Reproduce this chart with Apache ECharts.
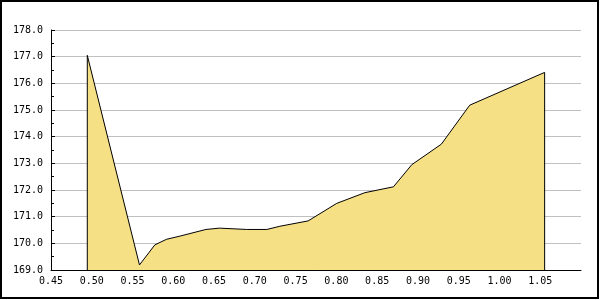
<!DOCTYPE html>
<html><head><meta charset="utf-8">
<script src="https://cdn.jsdelivr.net/npm/echarts@6/dist/echarts.min.js"></script>
<style>html,body{margin:0;padding:0;background:#fff}#c{width:600px;height:300px}</style>
</head><body><div id="c"></div>
<script>
var xValues = [0.4945, 0.5585, 0.5773, 0.5915, 0.608, 0.640, 0.6567, 0.690, 0.7147, 0.7306, 0.7653, 0.8005, 0.835, 0.870, 0.8925, 0.9288, 0.9635, 1.0554];
var yValues = [177.05, 169.19, 169.94, 170.15, 170.27, 170.52, 170.57, 170.52, 170.52, 170.64, 170.84, 171.50, 171.90, 172.12, 172.95, 173.72, 175.18, 176.41];
var baseline = 169;
var xTicks = {min: 0.45, max: 1.10, step: 0.05};
var yTicks = {min: 169, max: 178, step: 1};

var pts = [[xValues[0], baseline]];
for (var i = 0; i < xValues.length; i++) pts.push([xValues[i], yValues[i]]);
pts.push([xValues[xValues.length - 1], baseline]);

var font = 'DejaVu Sans Mono';
var chart = echarts.init(document.getElementById('c'), null, {renderer: 'canvas'});
chart.setOption({
  animation: false,
  backgroundColor: '#fff',
  grid: {left: 51, top: 30, right: 19, bottom: 30, containLabel: false},
  xAxis: {
    type: 'value', min: xTicks.min, max: xTicks.max, interval: xTicks.step,
    axisLine: {lineStyle: {color: '#000', width: 1}},
    axisTick: {inside: true, length: 5, lineStyle: {color: '#000'}},
    axisLabel: {color: '#000', fontFamily: font, fontSize: 10, margin: 6, showMaxLabel: false,
      formatter: function (v) { return v.toFixed(2); }},
    splitLine: {show: false}
  },
  yAxis: {
    type: 'value', min: yTicks.min, max: yTicks.max, interval: yTicks.step,
    axisLine: {show: true, lineStyle: {color: '#000', width: 1}},
    axisTick: {show: true, inside: true, length: 4, lineStyle: {color: '#000'}},
    minorTick: {show: true, splitNumber: 2, length: 3, lineStyle: {color: '#000'}},
    axisLabel: {color: '#000', fontFamily: font, fontSize: 10, margin: 8,
      formatter: function (v) { return v.toFixed(1); }},
    splitLine: {show: true, lineStyle: {color: '#c0c0c0', width: 1}}
  },
  series: [{
    type: 'line', data: pts, symbol: 'none', smooth: false,
    lineStyle: {color: '#000', width: 1},
    areaStyle: {color: '#f6e086', opacity: 1, origin: 'start'},
    z: 3
  }],
  graphic: [{
    type: 'rect', shape: {x: 1, y: 1, width: 597, height: 297},
    style: {fill: null, stroke: '#000', lineWidth: 2}, z: 100, silent: true
  }]
});
</script></body></html>
